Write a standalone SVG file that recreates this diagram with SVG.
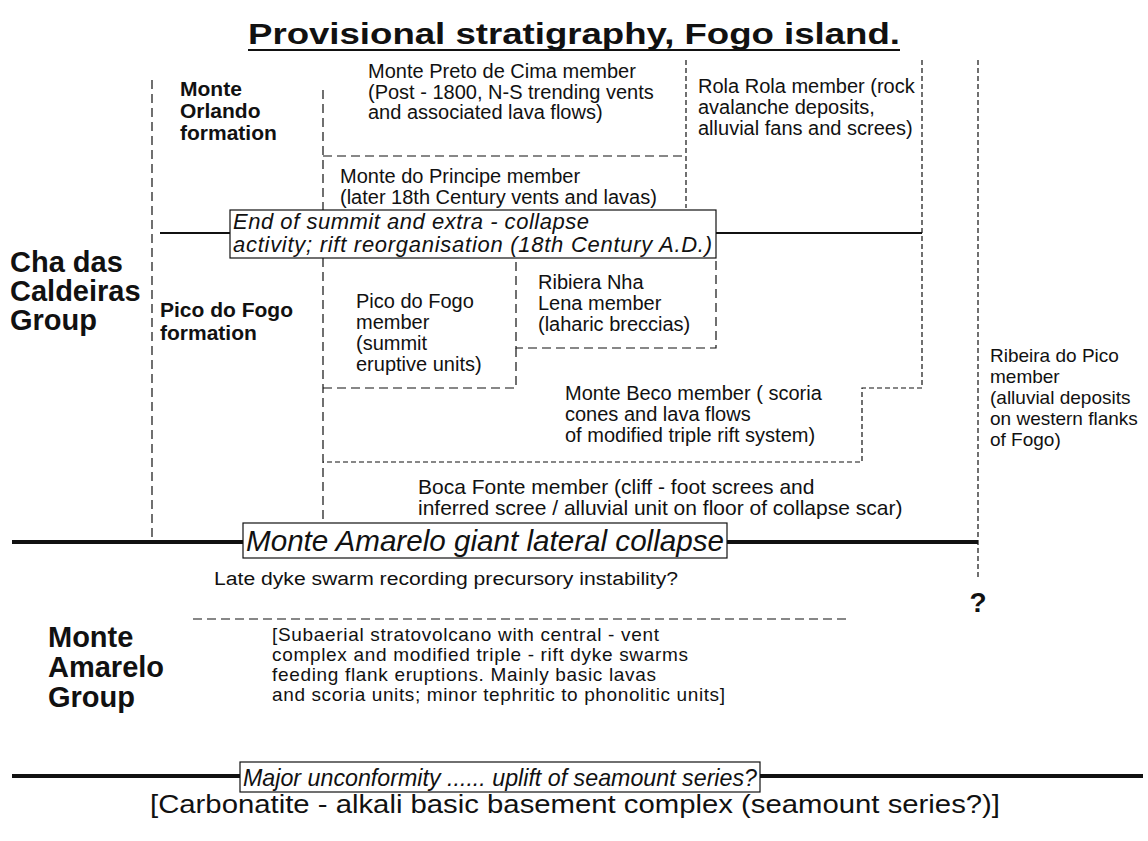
<svg xmlns="http://www.w3.org/2000/svg" width="1148" height="841" viewBox="0 0 1148 841">
<style>
text{font-family:"Liberation Sans",Arial,Helvetica,sans-serif;fill:#111}
.m{font-size:20px}
.b{font-weight:bold}
.i{font-style:italic}
.d{stroke:#111;stroke-width:1.2;stroke-dasharray:9 5;fill:none}
.f{stroke:#111;stroke-width:1.2;stroke-dasharray:5 3;fill:none}
.s{stroke:#111;stroke-width:2;fill:none}
.k{stroke:#111;stroke-width:4;fill:none}
.box{fill:#fff;stroke:#111;stroke-width:1.2}
</style>
<rect width="1148" height="841" fill="#fff"/>
<g id="title">
<text x="574" y="44" font-size="30" class="b" text-anchor="middle" textLength="652" lengthAdjust="spacingAndGlyphs">Provisional stratigraphy, Fogo island.</text>
<line x1="248" y1="50" x2="900" y2="50" class="s" stroke-width="2.5"/>
</g>
<g id="connectors">
<line x1="152" y1="80" x2="152" y2="540" class="d"/>
<line x1="323" y1="90" x2="323" y2="540" class="d"/>
<line x1="686" y1="60" x2="686" y2="208" class="f"/>
<line x1="323" y1="156" x2="686" y2="156" class="d" stroke-dasharray="7 5"/>
<polyline points="922,60 922,388 862,388 862,462 323,462" class="f" stroke-dasharray="7 5"/>
<line x1="978" y1="60" x2="978" y2="580" class="f"/>
<polyline points="516,262 516,348 716,348 716,258" class="d" stroke-dasharray="7 5"/>
<polyline points="516,348 516,388 323,388" class="d" stroke-dasharray="7 5"/>
<line x1="160" y1="233" x2="230" y2="233" class="s"/>
<line x1="716" y1="233" x2="922" y2="233" class="s"/>
<line x1="12" y1="542" x2="978" y2="542" class="k"/>
<line x1="193" y1="619" x2="850" y2="619" class="d" stroke-width="2" stroke-dasharray="11 6"/>
<line x1="12" y1="776" x2="1143" y2="776" class="k"/>
</g>
<g id="monte-orlando-formation">
<text class="b" font-size="21"><tspan x="180" y="96">Monte</tspan><tspan x="180" y="118">Orlando</tspan><tspan x="180" y="140">formation</tspan></text>
</g>
<g id="monte-preto-de-cima">
<text class="m"><tspan x="368" y="78">Monte Preto de Cima member</tspan><tspan x="368" y="98.5">(Post - 1800, N-S trending vents</tspan><tspan x="368" y="119">and associated lava flows)</tspan></text>
</g>
<g id="monte-do-principe">
<text class="m"><tspan x="340" y="183">Monte do Principe member</tspan><tspan x="340" y="204">(later 18th Century vents and lavas)</tspan></text>
</g>
<g id="rola-rola">
<text class="m"><tspan x="698" y="93">Rola Rola member (rock</tspan><tspan x="698" y="114">avalanche deposits,</tspan><tspan x="698" y="135">alluvial fans and screes)</tspan></text>
</g>
<g id="end-of-summit">
<rect x="230" y="210" width="486" height="48" class="box"/>
<text class="i" font-size="22" lengthAdjust="spacingAndGlyphs"><tspan x="233" y="229" textLength="356">End of summit and extra - collapse</tspan><tspan x="233" y="252" textLength="479">activity; rift reorganisation (18th Century A.D.)</tspan></text>
</g>
<g id="cha-das-caldeiras-group">
<text class="b" font-size="29"><tspan x="10" y="272">Cha das</tspan><tspan x="10" y="301">Caldeiras</tspan><tspan x="10" y="330">Group</tspan></text>
</g>
<g id="pico-do-fogo-formation">
<text class="b" font-size="21"><tspan x="160" y="317">Pico do Fogo</tspan><tspan x="160" y="340">formation</tspan></text>
</g>
<g id="pico-do-fogo-member">
<text class="m"><tspan x="356" y="308">Pico do Fogo</tspan><tspan x="356" y="329">member</tspan><tspan x="356" y="350">(summit</tspan><tspan x="356" y="371">eruptive units)</tspan></text>
</g>
<g id="ribiera-nha-lena">
<text class="m"><tspan x="538" y="289">Ribiera Nha</tspan><tspan x="538" y="310">Lena member</tspan><tspan x="538" y="331">(laharic breccias)</tspan></text>
</g>
<g id="monte-beco">
<text class="m"><tspan x="565" y="400">Monte Beco member ( scoria</tspan><tspan x="565" y="421">cones and lava flows</tspan><tspan x="565" y="442">of modified triple rift system)</tspan></text>
</g>
<g id="ribeira-do-pico">
<text font-size="19"><tspan x="990" y="362">Ribeira do Pico</tspan><tspan x="990" y="383">member</tspan><tspan x="990" y="404">(alluvial deposits</tspan><tspan x="990" y="425">on western flanks</tspan><tspan x="990" y="446">of Fogo)</tspan></text>
</g>
<g id="boca-fonte">
<text font-size="21"><tspan x="418" y="494">Boca Fonte member (cliff - foot screes and</tspan><tspan x="418" y="515">inferred scree / alluvial unit on floor of collapse scar)</tspan></text>
</g>
<g id="monte-amarelo-collapse">
<rect x="243" y="523" width="484" height="35" class="box"/>
<text x="246" y="551" class="i" font-size="30" textLength="478" lengthAdjust="spacingAndGlyphs">Monte Amarelo giant lateral collapse</text>
</g>
<g id="late-dyke">
<text x="214" y="585" font-size="18" textLength="464" lengthAdjust="spacingAndGlyphs">Late dyke swarm recording precursory instability?</text>
</g>
<g id="question">
<text x="978" y="612" class="b" font-size="28" text-anchor="middle">?</text>
</g>
<g id="monte-amarelo-group">
<text class="b" font-size="29"><tspan x="48" y="647">Monte</tspan><tspan x="48" y="677">Amarelo</tspan><tspan x="48" y="707">Group</tspan></text>
</g>
<g id="subaerial">
<text font-size="19" lengthAdjust="spacingAndGlyphs"><tspan x="272" y="641" textLength="387">[Subaerial stratovolcano with central - vent</tspan><tspan x="272" y="661" textLength="416">complex and modified triple - rift dyke swarms</tspan><tspan x="272" y="681" textLength="384">feeding flank eruptions. Mainly basic lavas</tspan><tspan x="272" y="701" textLength="453">and scoria units; minor tephritic to phonolitic units]</tspan></text>
</g>
<g id="major-unconformity">
<rect x="240" y="762" width="520" height="30" class="box"/>
<text x="243" y="786" class="i" font-size="24" textLength="514" lengthAdjust="spacingAndGlyphs">Major unconformity ...... uplift of seamount series?</text>
</g>
<g id="basement">
<text x="150" y="813" font-size="25" textLength="850" lengthAdjust="spacingAndGlyphs">[Carbonatite - alkali basic basement complex (seamount series?)]</text>
</g>
</svg>
